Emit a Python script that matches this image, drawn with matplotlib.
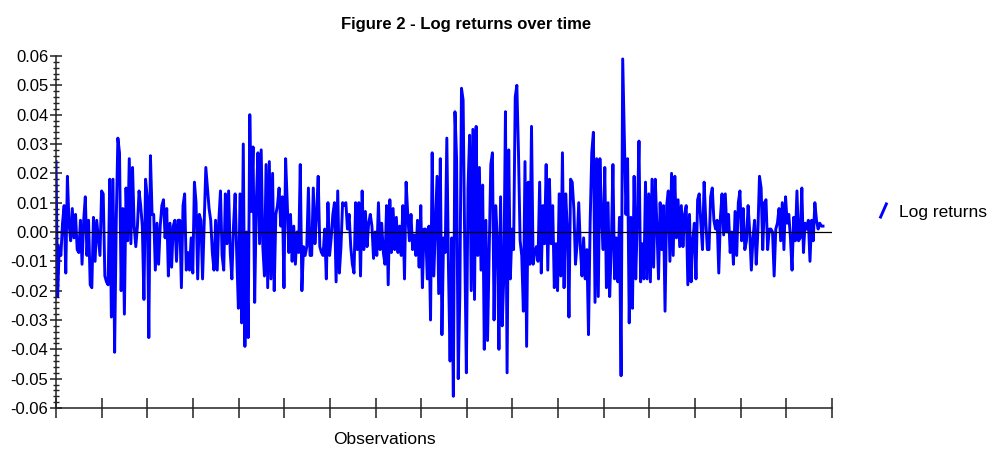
import matplotlib
matplotlib.use("Agg")
import matplotlib.pyplot as plt
import numpy as np
from matplotlib.lines import Line2D
from matplotlib.legend_handler import HandlerBase
from matplotlib.ticker import FixedLocator, MultipleLocator, NullFormatter

plt.rcParams['font.family'] = ['Liberation Sans', 'DejaVu Sans']

# Daily log returns, in thousandths, in order of observation
returns_a = [24, -22, -5, -8, 3, 9, -14, 19, 3, -3, 8, -2, 6, -6, -7, 4, -11, 4, 12, -8,
             4, -18, -19, 5, -10, 4, -2, -8, 14, 13, -15, -17, -18, 18, -29, 18, -41, 4, 32, 27,
             -20, 8, -28, 15, -3, 25, -4, 22, 2, -5, 2, 14, 9, 2, -23, 18, 12, -36, 26]
returns_b = [6, 6, -13, 3, -11, 2, 9, 11, -2, 8, -15, 3, -12, 2, 4, -10, 4, 4, -19, 9,
             13, -13, -7, -13, -2, -14, 17, 10, -16, 6, 4, -16, 3, 22, 15, 8, 4, -7, -13, 4,
             -13, 4, 14, -8, -13, 13, -4, 14, -7, -16, 2, 13, -8, -26, 13, -31, 30, -39, 0, -36, 40]
returns_c = [7, 29, -24, 10, 27, -4, 28, -5, -15, 23, -19, 24, -16, 20, -20, 6, 9, 15, 2, 12,
             -19, 25, 10, -7, 6, -10, 2, -11, 0, -7, 23, -20, -5, -8, -5, 15, -8, -8, 15, -4,
             6, 19, -5, -7, -8, 1, -16, 10, -8, -2, 6, 10, -17, 14, -14, -5, 10, 9]
returns_d = [10, 1, 6, -5, -11, -14, 10, -6, 10, -15, 14, -6, 7, -5, 3, 6, 2, -9, 0, -8,
             10, -6, 3, -7, -11, 9, -18, 11, -7, 8, -6, 5, -7, 2, -8, 9, -16, 17, 6, -3,
             6, -6, -1, -8, 4, -12, 9, -19, 1, 1, -16, 2, -30, 27, -15, 2, 19, -21, 25]
returns_e = [-35, -2, -7, 32, -12, -44, -2, -56, 41, 25, -50, -21, 49, 45, -5, -48, 15, 33, -20, 35,
             -23, 36, -8, 22, -13, 16, -40, 4, -37, -6, 23, 27, -30, 9, -2, -40, 12, -32, -15, 41,
             -48, 28, -16, 1, -6, 46, 50, 27, -3, -8, -27, 24, -39, 17, -11, 36, -11]
returns_f = [-7, -5, -10, 17, -14, 9, -4, 23, -13, 18, -4, 9, -19, -4, -20, 13, -15, 27, -19, 13,
             1, -29, 18, 17, 8, -11, -4, 10, -5, -15, -2, -16, -6, -35, 3, 27, 34, -24, 25, -22,
             25, 5, -6, 22, -19, 10, -22, -5, 23, -16, -2, -17, 5, -49, 59]
returns_g = [33, 6, 25, -31, 5, -26, 19, -16, 5, 31, -17, -4, -16, 17, -16, 13, -17, 18, -12, 18,
             2, -16, 10, -6, 9, -27, 9, 14, -10, 20, -8, 19, -2, 11, -5, 9, -5, 6, 9, -18,
             6, -17, -3, 3, -16, 11, 13, 3, -6, 17, 4, -6, -6, 12, 15, 4, 1, 4, -14, 5]
returns_h = [13, -1, 13, 0, 6, -7, 0, -11, 7, -8, 10, 14, -3, 8, -6, -3, 9, 0, -13, -2,
             4, -11, 0, 19, 15, -6, 10, 11, -6, 1, 1, 0, -15, 1, 3, 8, -3, 10, -6, 12,
             3, 6, -2, -13, 5, -3, 14, -3, -2, 15, -7, 3, 1, 4, -10, 4, -3, 10, 4, 1,
             3, 2, 2]

log_returns = np.array(returns_a + returns_b + returns_c + returns_d +
                       returns_e + returns_f + returns_g + returns_h) / 1000.0
observations = np.arange(len(log_returns))

y_ticks = [-0.06, -0.05, -0.04, -0.03, -0.02, -0.01, 0.00, 0.01, 0.02, 0.03, 0.04, 0.05, 0.06]
y_tick_labels = ['-0.06', '-0.05', '-0.04', '-0.03', '-0.02', '-0.01', '0.00',
                 '0.01', '0.02', '0.03', '0.04', '0.05', '0.06']
x_intervals = 17

series_color = '#0000FF'


class SlashHandler(HandlerBase):
    """Legend key drawn as a short rising stroke."""
    def create_artists(self, legend, orig_handle, xdescent, ydescent,
                       width, height, fontsize, trans):
        x0, y0 = -xdescent, -ydescent - 0.15 * height
        x1, y1 = -xdescent + width, -ydescent + 1.15 * height
        stroke = Line2D([x0, x1], [y0, y1], color=orig_handle.get_color(),
                        lw=orig_handle.get_linewidth(), solid_capstyle='butt',
                        transform=trans)
        return [stroke]


fig = plt.figure(figsize=(9.92, 4.5), dpi=100)
ax = fig.add_axes([56 / 992, 42 / 450, 776 / 992, 352 / 450])

series, = ax.plot(observations, log_returns, color=series_color, lw=2.1,
                  solid_joinstyle='round', zorder=2)
ax.axhline(0, color='black', lw=0.9, zorder=3)

x_max = (len(log_returns) - 1) * 776 / 767
ax.set_xlim(0, x_max)
ax.set_ylim(-0.06, 0.06)

ax.xaxis.set_major_locator(FixedLocator(np.linspace(0, x_max, x_intervals + 1)))
ax.xaxis.set_major_formatter(NullFormatter())
ax.yaxis.set_major_locator(FixedLocator(y_ticks))
ax.set_yticklabels(y_tick_labels)
ax.yaxis.set_minor_locator(MultipleLocator(0.002))

for side in ('top', 'right'):
    ax.spines[side].set_visible(False)
for side in ('left', 'bottom'):
    ax.spines[side].set_linewidth(1.1)
    ax.spines[side].set_color('#222222')

ax.tick_params(axis='x', which='major', direction='inout', length=15, width=1.1,
               color='#222222')
ax.tick_params(axis='y', which='major', direction='inout', length=9, width=1.1,
               color='#222222', labelsize=12, pad=1)
ax.tick_params(axis='y', which='minor', direction='inout', length=4.5, width=1.0,
               color='#222222')

fig.text(466 / 992, 1 - 24 / 450, 'Figure 2 - Log returns over time',
         ha='center', va='center', fontsize=12, fontweight='bold')
fig.text(384 / 992, 1 - 440 / 450, 'Observations', ha='center', va='center',
         fontsize=12.5)

fig.legend([series], ['Log returns'], handler_map={Line2D: SlashHandler()},
           loc='center left', bbox_to_anchor=(880 / 992, 1 - 212 / 450),
           frameon=False, fontsize=12.5, handlelength=0.4, handletextpad=0.7,
           borderpad=0, borderaxespad=0)

fig.savefig('out.png', dpi=100)
